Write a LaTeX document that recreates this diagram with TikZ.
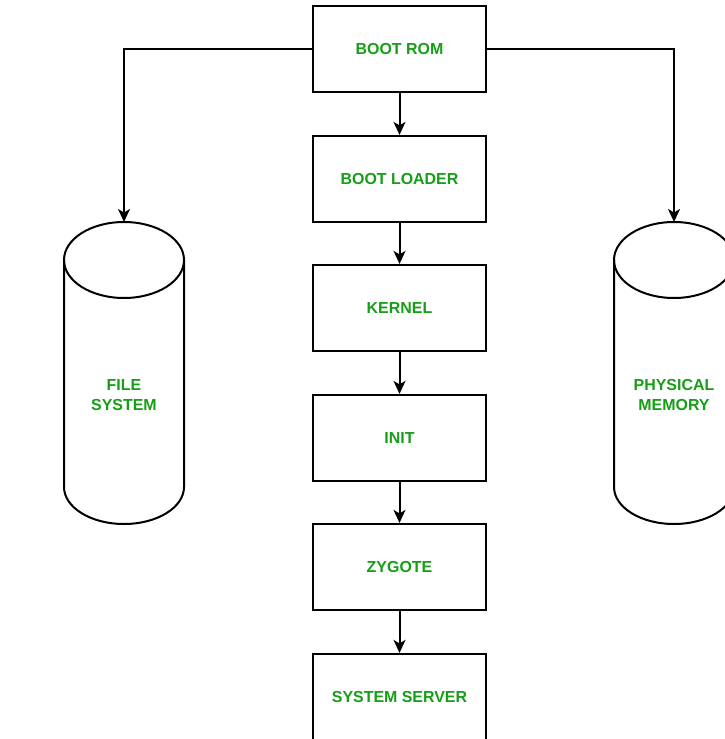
\documentclass[tikz,border=0pt]{standalone}
\usepackage{fontspec}
\setmainfont{Liberation Sans}
\usetikzlibrary{arrows.meta}
\definecolor{lblgreen}{RGB}{22,158,22}
\begin{document}
\begin{tikzpicture}[x=1bp,y=-1bp,
  box/.style={draw=black,line width=2.2bp,fill=white,minimum width=173bp,minimum height=86bp,inner sep=0pt},
  lbl/.style={text=lblgreen,font=\fontsize{16}{20}\selectfont\bfseries,align=center},
  cylline/.style={draw=black,line width=2bp},
  conn/.style={draw=black,line width=2bp,-{Stealth[length=13bp,width=12bp,inset=3.5bp]}}]
\useasboundingbox (0,0) rectangle (725,739);
\fill[white] (0,0) rectangle (725,739);
\clip (0,0) rectangle (725,739);
% boxes
\node[box,lbl] (rom) at (399.5,49) {BOOT ROM};
\node[box,lbl] (loader) at (399.5,179) {BOOT LOADER};
\node[box,lbl] (kernel) at (399.5,308) {KERNEL};
\node[box,lbl] (init) at (399.5,438) {INIT};
\node[box,lbl] (zygote) at (399.5,567) {ZYGOTE};
\node[box,lbl] (server) at (399.5,697) {SYSTEM SERVER};
% cylinders
\draw[cylline] (64,260) -- (64,487) arc[start angle=180,end angle=360,x radius=60bp,y radius=37bp] -- (184,260);
\draw[cylline] (124,260) ellipse[x radius=60bp,y radius=38bp];
\coordinate (fstop) at (124,222);
\node[lbl] (fs) at (124,395) {FILE\\SYSTEM};
\draw[cylline] (614,260) -- (614,487) arc[start angle=180,end angle=360,x radius=60bp,y radius=37bp] -- (734,260);
\draw[cylline] (674,260) ellipse[x radius=60bp,y radius=38bp];
\coordinate (pmtop) at (674,222);
\node[lbl] (pm) at (674,395) {PHYSICAL\\MEMORY};
% connectors
\draw[conn] (rom) -- (loader);
\draw[conn] (loader) -- (kernel);
\draw[conn] (kernel) -- (init);
\draw[conn] (init) -- (zygote);
\draw[conn] (zygote) -- (server);
\draw[conn] (rom.west) -| (fstop);
\draw[conn] (rom.east) -| (pmtop);
\end{tikzpicture}
\end{document}
